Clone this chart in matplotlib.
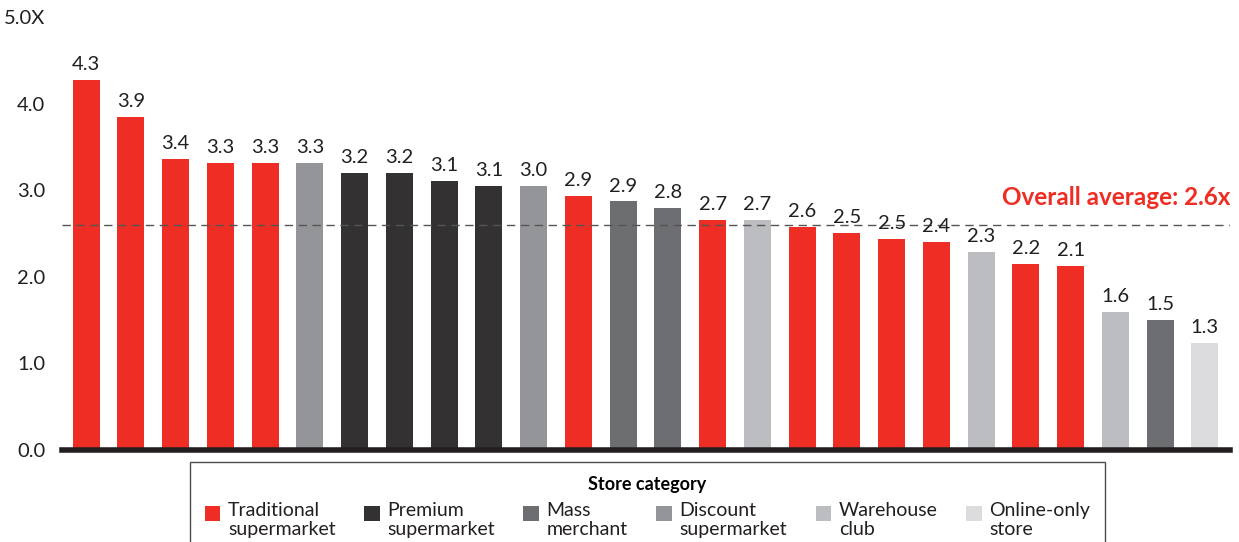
import matplotlib.pyplot as plt
from matplotlib.patches import Patch, Rectangle
from matplotlib.legend_handler import HandlerPatch

# store category of each bar, left to right
categories = ['Traditional', 'Traditional', 'Traditional', 'Traditional', 'Traditional',
              'Discount', 'Premium', 'Premium', 'Premium', 'Premium', 'Discount',
              'Traditional', 'Mass', 'Mass', 'Traditional', 'Warehouse',
              'Traditional', 'Traditional', 'Traditional', 'Traditional', 'Warehouse',
              'Traditional', 'Traditional', 'Warehouse', 'Mass', 'Online']
values = [4.27, 3.85, 3.36, 3.32, 3.32, 3.32, 3.20, 3.20, 3.11, 3.05, 3.05,
          2.93, 2.87, 2.80, 2.66, 2.66, 2.58, 2.51, 2.44, 2.40, 2.29,
          2.15, 2.12, 1.59, 1.50, 1.24]
value_labels = ['4.3', '3.9', '3.4', '3.3', '3.3', '3.3', '3.2', '3.2', '3.1', '3.1', '3.0',
                '2.9', '2.9', '2.8', '2.7', '2.7', '2.6', '2.5', '2.5', '2.4', '2.3',
                '2.2', '2.1', '1.6', '1.5', '1.3']
average = 2.6

legend_keys = ['Traditional', 'Premium', 'Mass', 'Discount', 'Warehouse', 'Online']
legend_labels = ['Traditional\nsupermarket', 'Premium\nsupermarket', 'Mass\nmerchant',
                 'Discount\nsupermarket', 'Warehouse\nclub', 'Online-only\nstore']
colors = {'Traditional': '#ee2e24', 'Premium': '#333132', 'Mass': '#6d6e71',
          'Discount': '#939598', 'Warehouse': '#bcbdc0', 'Online': '#dcdcde'}

plt.rcParams['font.family'] = ['Lato', 'DejaVu Sans']
text_color = '#231f20'


def top_square(legend, orig_handle, xdescent, ydescent, width, height, fontsize):
    # square key sitting next to the first line of a two-line label
    s = 0.8 * fontsize
    return Rectangle((-xdescent, -ydescent + height - s - 0.1 * fontsize), s, s)


fig = plt.figure(figsize=(12.39, 5.42), dpi=100)
ax = fig.add_axes([0.050, 0.1697, 0.9427, 0.7989])

x = list(range(len(values)))
bars = ax.bar(x, values, width=0.6, color=[colors[c] for c in categories])
ax.bar_label(bars, labels=value_labels, padding=5, fontsize=14.5, color=text_color)

ax.axhline(average, color='#555555', lw=1, ls=(0, (6, 4)))
ax.text(25.56, 2.83, 'Overall average: 2.6x', ha='right', va='baseline',
        fontsize=17.5, fontweight='bold', color='#ee2e24')

ax.set_xlim(-0.54, 25.56)
ax.set_ylim(0, 5)
ax.set_yticks([0, 1, 2, 3, 4, 5])
ax.set_yticklabels(['0.0', '1.0', '2.0', '3.0', '4.0', '5.0X'])
ax.set_xticks([])
ax.tick_params(axis='y', length=0, pad=12, labelsize=14.5, labelcolor=text_color)
for s in ['top', 'right', 'left']:
    ax.spines[s].set_visible(False)
ax.spines['bottom'].set_linewidth(4)
ax.spines['bottom'].set_color(text_color)

handles = [Patch(facecolor=colors[k], edgecolor='none') for k in legend_keys]
leg = fig.legend(handles, legend_labels, ncol=6, loc='upper left',
                 bbox_to_anchor=(190 / 1239, 1 - 467 / 542, 915 / 1239, 0.01),
                 mode='expand', title='Store category',
                 title_fontproperties={'weight': 'bold', 'size': 13},
                 fontsize=14, frameon=True, fancybox=False, borderpad=0.75,
                 handlelength=0.8, handleheight=2.4, handletextpad=0.4,
                 labelspacing=0.45, borderaxespad=0,
                 handler_map={Patch: HandlerPatch(patch_func=top_square)})
leg.get_frame().set_edgecolor(text_color)
leg.get_frame().set_linewidth(1)
for t in leg.get_texts():
    t.set_linespacing(1.18)
    t.set_color(text_color)

plt.savefig('out.png', dpi=100)
